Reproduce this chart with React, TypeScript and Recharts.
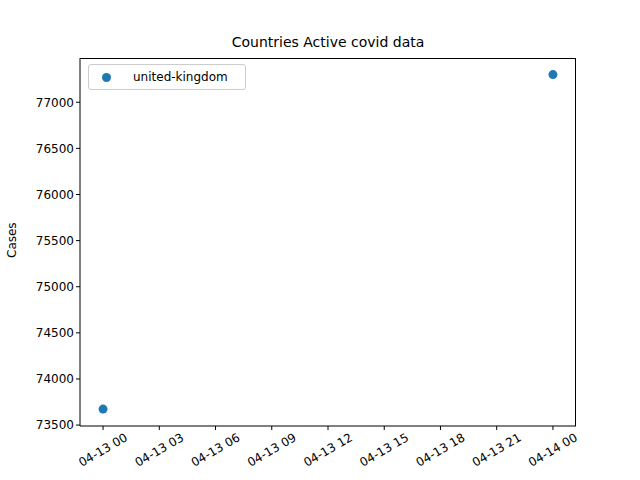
import { ScatterChart, Scatter, XAxis, YAxis } from 'recharts'

// hours since 2020-04-13 00:00
const hours = [0, 24]
const cases = [73673, 77300]
const xTicks = [0, 3, 6, 9, 12, 15, 18, 21, 24]
const xTickLabels = ['04-13 00', '04-13 03', '04-13 06', '04-13 09', '04-13 12', '04-13 15', '04-13 18', '04-13 21', '04-14 00']
const yTicks = [73500, 74000, 74500, 75000, 75500, 76000, 76500, 77000]
const seriesName = 'united-kingdom'

const data = hours.map((h, i) => ({ h, cases: cases[i] }))
const font = 'DejaVu Sans, sans-serif'

const XTick = ({ x, y, payload }: any) => {
  const label = xTickLabels[xTicks.indexOf(payload.value)]
  const cy = y + 18
  return (
    <text x={x} y={cy} transform={`rotate(-30 ${x} ${cy})`} textAnchor="middle" dominantBaseline="central" fontSize={12} fontFamily={font} fill="#000">
      {label}
    </text>
  )
}

export default function App() {
  return (
    <div style={{ position: 'absolute', left: 0, top: 0, width: 640, height: 480, background: '#fff', fontFamily: font }}>
      <div style={{ position: 'absolute', top: 34, width: 640, left: 8, textAlign: 'center', fontSize: 14 }}>Countries Active covid data</div>
      <div style={{ position: 'absolute', left: 5, top: 242, fontSize: 12, transform: 'rotate(-90deg)', transformOrigin: 'left top', width: 40 }}>
        <span style={{ position: 'absolute', left: -16, top: 0 }}>Cases</span>
      </div>
      <ScatterChart width={640} height={480} margin={{ top: 58, right: 64, left: 0, bottom: 0 }}>
        <XAxis type="number" dataKey="h" domain={[-1.23, 25.23]} ticks={xTicks} height={54} tick={<XTick />} tickSize={4} stroke="#000" allowDataOverflow />
        <YAxis type="number" dataKey="cases" domain={[73490, 77480]} ticks={yTicks} width={80} tickSize={4} stroke="#000" tick={{ fill: '#000', fontSize: 12, fontFamily: font }} allowDataOverflow />
        <Scatter name={seriesName} data={data} fill="#1f77b4" isAnimationActive={false} shape={(p: any) => <circle cx={p.cx} cy={p.cy} r={4.5} fill="#1f77b4" />} />
      </ScatterChart>
      <div style={{ position: 'absolute', left: 80, top: 58, width: 496, height: 368, borderTop: '1px solid #000', borderRight: '1px solid #000', boxSizing: 'border-box', pointerEvents: 'none' }} />
      <div style={{ position: 'absolute', left: 88, top: 64, width: 158, height: 26, border: '1px solid #ccc', borderRadius: 3, boxSizing: 'border-box', fontSize: 12, display: 'flex', alignItems: 'center' }}>
        <span style={{ display: 'inline-block', width: 9, height: 9, borderRadius: 5, background: '#1f77b4', marginLeft: 13, marginRight: 22 }} />
        {seriesName}
      </div>
    </div>
  )
}
